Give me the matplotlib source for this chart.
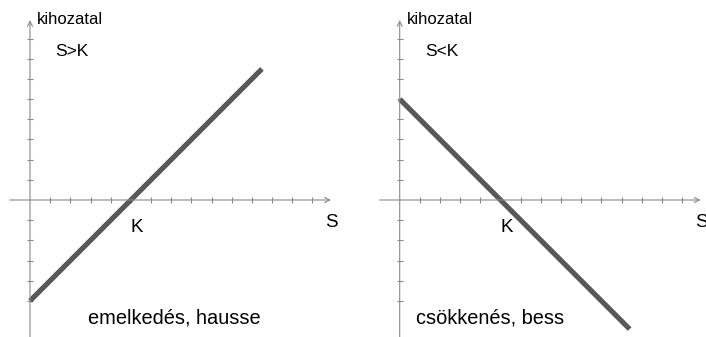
import matplotlib.pyplot as plt

plt.rcParams["font.family"] = ["Liberation Sans", "DejaVu Sans"]

# payoff lines (S on x, kihozatal on y), K = 5
strike = 5
up_x = [0, 11.5]
up_y = [-5, 6.5]
down_x = [0, 11.4]
down_y = [5, -6.4]

x_ticks = list(range(1, 15))
y_ticks = [t for t in range(-5, 9) if t != 0]

panels = [
	{"x": up_x, "y": up_y, "cond": "S>K", "name": "emelkedés, hausse", "name_x": 2.88},
	{"x": down_x, "y": down_y, "cond": "S<K", "name": "csökkenés, bess", "name_x": 0.81},
]

AXIS_COLOR = "#8a8a8a"
LINE_COLOR = "#585858"

W, H = 706, 337
unit = 20.17  # pixels per unit
origins = [(30, 200), (399.7, 200)]

fig = plt.figure(figsize=(W / 100, H / 100), dpi=100)

for i, (p, (ox, oy)) in enumerate(zip(panels, origins)):
	left = i * W / 2
	ax = fig.add_axes([left / W, 0, 0.5, 1])
	ax.set_xlim((left - ox) / unit, (left + W / 2 - ox) / unit)
	ax.set_ylim((oy - H) / unit, oy / unit)
	ax.axis("off")

	# axes with open arrow heads
	ax.annotate("", xy=(14.92, 0), xytext=(-1.0, 0),
				arrowprops=dict(arrowstyle="->", color=AXIS_COLOR, lw=0.8,
								shrinkA=0, shrinkB=0, mutation_scale=9))
	ax.annotate("", xy=(0, 8.92), xytext=(0, -6.8),
				arrowprops=dict(arrowstyle="->", color=AXIS_COLOR, lw=0.8,
								shrinkA=0, shrinkB=0, mutation_scale=9))
	# tick marks crossing the axes
	ax.vlines(x_ticks, -0.15, 0.15, color=AXIS_COLOR, lw=0.8)
	ax.hlines(y_ticks, -0.15, 0.15, color=AXIS_COLOR, lw=0.8)

	ax.plot(p["x"], p["y"], color=LINE_COLOR, lw=3.7, solid_capstyle="butt")

	ax.text(0.35, 8.97, "kihozatal", fontsize=12, ha="left", va="center")
	ax.text(1.24, 7.34, p["cond"], fontsize=12.5, ha="left", va="center")
	ax.text(strike + 0.3, -1.34, "K", fontsize=13.5, ha="center", va="center")
	ax.text(14.95, -1.14, "S", fontsize=13.5, ha="center", va="center")
	ax.text(p["name_x"], -5.85, p["name"], fontsize=14.4, ha="left", va="center")

fig.savefig("out.png", dpi=100)
